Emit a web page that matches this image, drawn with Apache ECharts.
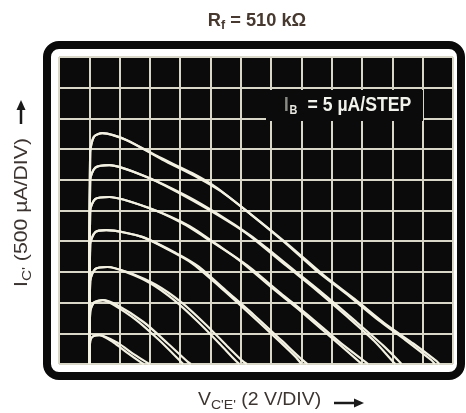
<!DOCTYPE html>
<html><head><meta charset="utf-8">
<script src="https://cdn.jsdelivr.net/npm/echarts@6/dist/echarts.min.js"></script>
<style>html,body{margin:0;padding:0;background:#fff}#c{width:466px;height:413px}</style>
</head><body><div id="c"></div>
<script>
// Axis ranges: V_CE in volts (2 V/div), I_C in microamps (500 uA/div)
var xTicks = [-2, 24, 2];
var yTicks = [0, 5000, 500];
var curveNames = ['IB1','IB2','IB3','IB4','IB5','IB6','IB7'];
// each curve is a double trace (A and B)
var c1A = [[0,0],[0.06,375],[0.24,450],[0.66,470],[1.6,350],[2.44,195],[3.48,15],[3.6,0]];
var c1B = [[0,0],[0.06,375],[0.24,450],[0.66,470],[1.9,340],[2.9,165],[3.9,10],[4.0,0]];
var c2A = [[0,0],[0.06,850],[0.3,1000],[0.9,1040],[1.52,975],[3.1,715],[4.6,390],[6,50],[6.2,0]];
var c2B = [[0,0],[0.06,850],[0.3,1000],[0.9,1040],[1.8,965],[3.6,680],[5.2,330],[6.5,35],[6.7,0]];
var c3A = [[0,0],[0.06,1350],[0.4,1550],[1.2,1580],[2.4,1500],[4,1320],[5.6,1040],[7.2,680],[8.6,330],[9.6,70],[9.9,0]];
var c3B = [[0,0],[0.06,1350],[0.4,1550],[1.2,1580],[2.6,1490],[4.4,1290],[6.1,1000],[7.7,640],[9.1,290],[10.1,50],[10.4,0]];
var c4A = [[0,0],[0.06,1950],[0.4,2150],[1.12,2180],[3.48,2070],[5.26,1855],[6.78,1640],[8.6,1260],[10.4,860],[12.2,450],[13.6,120],[14,0]];
var c4B = [[0,0],[0.06,1950],[0.4,2150],[1.12,2180],[3.48,2070],[5.7,1810],[7.2,1590],[9.0,1200],[10.9,790],[12.7,380],[14.0,80],[14.4,0]];
var c5A = [[0,0],[0.06,2500],[0.4,2690],[1.32,2720],[3.94,2540],[6.12,2295],[7.9,2020],[9.86,1695],[12,1250],[14,850],[16,425],[17.8,40],[18,0]];
var c5B = [[0,0],[0.06,2500],[0.4,2690],[1.32,2720],[3.94,2540],[6.6,2250],[8.4,1950],[10.4,1610],[12.6,1160],[14.6,760],[16.6,340],[18.3,20],[18.4,0]];
var c6A = [[0,0],[0.06,3000],[0.4,3200],[1.32,3240],[3.94,3030],[5.92,2785],[7.9,2510],[10.06,2180],[11.18,1970],[13,1600],[15,1200],[17,775],[18.8,375],[20,50],[20.2,0]];
var c6B = [[0,0],[0.06,3000],[0.4,3200],[1.32,3240],[3.94,3030],[6.4,2740],[8.5,2440],[10.6,2100],[11.7,1890],[13.6,1510],[15.6,1110],[17.6,690],[19.4,300],[20.5,30],[20.6,0]];
var c7A = [[0,0],[0.06,3450],[0.3,3700],[0.86,3760],[2.44,3650],[4.6,3370],[6.78,3110],[8.3,2890],[10.06,2555],[12.7,2020],[14.94,1530],[16.9,1155],[19.08,715],[20.86,390],[22.56,65],[22.8,0]];
var c7B = [[0,0],[0.06,3450],[0.3,3700],[0.86,3760],[2.44,3650],[4.8,3330],[7.2,3030],[8.7,2810],[10.6,2450],[13.2,1930],[15.5,1440],[17.5,1060],[19.6,640],[21.4,330],[22.9,50],[23.1,0]];
var traces = [c1A,c1B,c2A,c2B,c3A,c3B,c4A,c4B,c5A,c5B,c6A,c6B,c7A,c7B];

var titleText = ['R', 'f', ' = 510 kΩ'];
var xLabel = ['V', "C'E'", ' (2 V/DIV)'];
var yLabel = ['I', "C'", ' (500 µA/DIV)'];
var stepLabel = ['I', 'B', '= 5 µA/STEP'];

var FONT = "Liberation Sans";
var chart = echarts.init(document.getElementById('c'), null, {renderer:'canvas'});

var series = traces.map(function(d, i){
  return {
    type:'line', name: curveNames[Math.floor(i/2)], data:d, showSymbol:false, smooth:0.25,
    lineStyle:{color:'#f3f1e2', width:2.2}, z:5, silent:true
  };
});

function rs(size, color, weight, pad){
  var o = {fontFamily:FONT, fontSize:size, fontWeight:weight||'normal', fill:color, color:color};
  if (pad) o.padding = pad;
  return o;
}

var option = {
  animation:false,
  backgroundColor:'#ffffff',
  grid:{left:59, top:57, width:394, height:307, show:true, backgroundColor:'#0b0b0b', borderWidth:0},
  xAxis:{type:'value', min:xTicks[0], max:xTicks[1], interval:xTicks[2],
    axisLine:{show:false}, axisTick:{show:false}, axisLabel:{show:false},
    splitLine:{show:true, lineStyle:{color:'#d9d7c8', width:2}}},
  yAxis:{type:'value', min:yTicks[0], max:yTicks[1], interval:yTicks[2],
    axisLine:{show:false}, axisTick:{show:false}, axisLabel:{show:false},
    splitLine:{show:true, lineStyle:{color:'#d9d7c8', width:2}}},
  series: series,
  graphic:[
    {type:'rect', z:1, shape:{x:47, y:45, width:414, height:331, r:12},
      style:{fill:null, stroke:'#0a0a0a', lineWidth:8}},
    {type:'rect', z:50, shape:{x:266, y:90, width:157, height:31},
      style:{fill:'#0b0b0b'}},
    {type:'text', z:51, x:284, y:105, scaleX:0.84,
      style:{text:'{i|'+stepLabel[0]+'}{b|'+stepLabel[1]+'}{t|'+stepLabel[2]+'}',
        textVerticalAlign:'middle', textAlign:'left',
        rich:{ i:rs(20,'#8a8a84','bold'), b:rs(13,'#e8e8e0','bold',[10,0,0,1]), t:rs(21,'#f2f2ec','bold',[0,0,0,12]) }}},
    {type:'text', z:51, x:257, y:21, scaleX:0.96,
      style:{text:'{m|'+titleText[0]+'}{s|'+titleText[1]+'}{m|'+titleText[2]+'}',
        textAlign:'center', textVerticalAlign:'middle',
        rich:{ m:rs(19,'#47392f','bold'), s:rs(13,'#47392f','bold',[8,0,0,0]) }}},
    {type:'text', z:51, x:198, y:400, scaleX:1.08,
      style:{text:'{m|'+xLabel[0]+'}{s|'+xLabel[1]+'}{m|'+xLabel[2]+'}',
        textAlign:'left', textVerticalAlign:'middle',
        rich:{ m:rs(18,'#3c3430'), s:rs(13,'#3c3430','normal',[10,0,0,0]) }}},
    {type:'line', z:51, shape:{x1:334, y1:403, x2:356, y2:403}, style:{stroke:'#1a1a1a', lineWidth:2.5}},
    {type:'polygon', z:51, shape:{points:[[364,403],[354,398.5],[354,407.5]]}, style:{fill:'#1a1a1a'}},
    {type:'text', z:51, x:22, y:287, rotation:Math.PI/2, scaleX:1.18,
      style:{text:'{m|'+yLabel[0]+'}{s|'+yLabel[1]+'}{m|'+yLabel[2]+'}',
        textAlign:'left', textVerticalAlign:'middle',
        rich:{ m:rs(18,'#3c3430'), s:rs(13,'#3c3430','normal',[10,0,0,0]) }}},
    {type:'line', z:51, shape:{x1:21, y1:124, x2:21, y2:108}, style:{stroke:'#1a1a1a', lineWidth:2.5}},
    {type:'polygon', z:51, shape:{points:[[21,100],[16.5,110],[25.5,110]]}, style:{fill:'#1a1a1a'}}
  ]
};
chart.setOption(option);
</script>
</body></html>
